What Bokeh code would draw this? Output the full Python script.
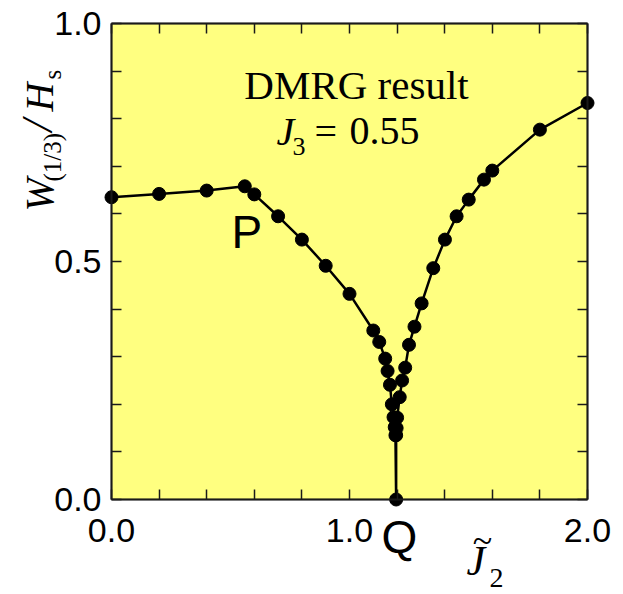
import math
from bokeh.plotting import figure
from bokeh.models import Label, LinearAxis, FixedTicker, PrintfTickFormatter, Range1d, BoxAnnotation
from bokeh.embed import file_html
from bokeh.resources import INLINE

# ---- data ----
left_x = [0.0, 0.2, 0.4, 0.56, 0.6, 0.7, 0.8, 0.9, 1.0, 1.1, 1.125, 1.15, 1.16, 1.17, 1.178, 1.185, 1.19, 1.193]
left_y = [0.635, 0.642, 0.649, 0.658, 0.641, 0.595, 0.546, 0.491, 0.432, 0.355, 0.331, 0.296, 0.270, 0.241, 0.200, 0.173, 0.152, 0.135]
q_x = [1.196]
q_y = [0.0]
right_x = [1.196, 1.198, 1.200, 1.211, 1.221, 1.234, 1.250, 1.273, 1.303, 1.352, 1.401, 1.450, 1.501, 1.565, 1.600, 1.800, 2.000]
right_y = [0.135, 0.150, 0.172, 0.215, 0.250, 0.277, 0.325, 0.363, 0.412, 0.486, 0.546, 0.595, 0.630, 0.672, 0.691, 0.777, 0.833]

x_major = [0.0, 1.0, 2.0]
x_minor = [0.2, 0.4, 0.6, 0.8, 1.2, 1.4, 1.6, 1.8]
y_major = [0.0, 0.5, 1.0]
y_minor = [0.1, 0.2, 0.3, 0.4, 0.6, 0.7, 0.8, 0.9]

all_x = left_x + q_x + right_x
all_y = left_y + q_y + right_y

SERIF = "Liberation Serif"
SANS = "Liberation Sans"
INK = "#1a1a1a"

W, H = 620, 592
# pixel geometry of the plot box (canvas pixels)
X0PX, X1PX, Y0PX, Y1PX = 111.0, 587.0, 499.0, 23.0
SX = (X1PX - X0PX) / 2.0
SY = (Y0PX - Y1PX) / 1.0


def dx(px):
    return (px - X0PX) / SX


def dy(py):
    return (Y0PX - py) / SY


p = figure(width=W, height=H,
           x_range=Range1d(dx(0), dx(W)), y_range=Range1d(dy(H), dy(0)),
           output_backend="svg", toolbar_location=None,
           x_axis_location=None, y_axis_location=None,
           min_border=0, min_border_left=0, min_border_right=0,
           min_border_top=0, min_border_bottom=0)
p.background_fill_color = "white"
p.border_fill_color = "white"
p.outline_line_color = None
p.xgrid.visible = False
p.ygrid.visible = False

p.add_layout(BoxAnnotation(left=0, right=2, bottom=0, top=1,
                           fill_color="#FFFF80", fill_alpha=1.0,
                           line_color=INK, line_width=2, level="underlay"))


def make_axis(major, minor, labels, loc, bounds):
    ax = LinearAxis(ticker=FixedTicker(ticks=major, minor_ticks=minor),
                    fixed_location=loc, bounds=bounds)
    ax.axis_line_color = INK
    ax.axis_line_width = 2
    ax.major_tick_in = 10
    ax.major_tick_out = 0
    ax.minor_tick_in = 10
    ax.minor_tick_out = 0
    ax.major_tick_line_color = INK
    ax.minor_tick_line_color = INK
    ax.major_tick_line_width = 1.5
    ax.minor_tick_line_width = 1.5
    ax.formatter = PrintfTickFormatter(format="%.1f")
    if labels:
        ax.major_label_text_font = SANS
        ax.major_label_text_font_size = "34px"
        ax.major_label_text_color = "black"
    else:
        ax.major_label_text_alpha = 0.0
        ax.major_label_text_font_size = "1px"
    return ax


xb = make_axis(x_major, x_minor, True, 0.0, (0, 2))
xb.major_label_standoff = 19
yl = make_axis(y_major, y_minor, True, 0.0, (0, 1))
yl.major_label_standoff = 10
xt = make_axis(x_major, x_minor, False, 1.0, (0, 2))
yr = make_axis(y_major, y_minor, False, 2.0, (0, 1))
p.add_layout(xb, "below")
p.add_layout(yl, "left")
p.add_layout(xt, "above")
p.add_layout(yr, "right")

p.line(all_x, all_y, line_width=2.5, line_color="black")
p.scatter(all_x, all_y, size=13, fill_color="black", line_color="black")

K = 0.36  # empirical baseline correction (fraction of font size)


def lab(text, px, py, size, font=SERIF, style="normal", align="left", angle=0.0):
    if angle == 0.0:
        py = py - K * size
    else:
        px = px - K * size
    p.add_layout(Label(x=dx(px), y=dy(py), text=text, text_font=font,
                       text_font_size=f"{size}px", text_font_style=style,
                       text_align=align, text_baseline="alphabetic",
                       text_color="black", angle=angle))


# in-plot annotations
lab("DMRG result", 356, 99, 41, align="center")
lab("J", 276, 145, 40, style="italic")
lab("3", 292, 155, 26)
lab("=", 314, 145, 40)
lab("0.55", 349, 145, 40)
lab("P", 231, 248, 46, font=SANS)
lab("Q", 399, 553, 46, font=SANS, align="center")

# x-axis title  J~_2
lab("~", 482, 553, 36, align="center")
lab("J", 466, 576, 42, style="italic")
lab("2", 489, 588, 28)

# y-axis title  W_(1/3)/H_s (rotated)
A = math.pi / 2
lab("W", 53, 211, 40, style="italic", angle=A)
lab("(1/3)", 61, 181, 25, angle=A)
lab("/", 53, 131, 44, style="italic", angle=A)
lab("H", 53, 111, 40, style="italic", angle=A)
lab("s", 61, 79, 25, angle=A)

open("out.html", "w").write(file_html(p, INLINE))
